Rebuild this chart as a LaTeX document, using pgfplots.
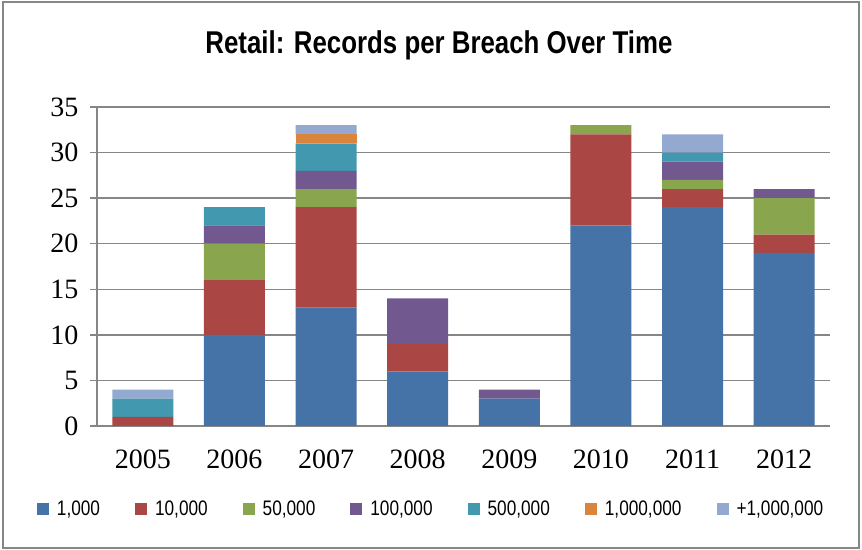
\documentclass[border=0pt]{standalone}
\usepackage{fontspec}
\setmainfont{Liberation Sans}
\newfontfamily\narrow{Liberation Sans}[FakeStretch=0.82]
\newfontfamily\serifnum{Liberation Serif}
\usepackage{pgfplots}
\usepackage{pgfplotstable}
\pgfplotsset{compat=1.18}
\definecolor{c1}{HTML}{4572A7}
\definecolor{c2}{HTML}{AA4643}
\definecolor{c3}{HTML}{89A54E}
\definecolor{c4}{HTML}{71588F}
\definecolor{c5}{HTML}{4198AF}
\definecolor{c6}{HTML}{DB843D}
\definecolor{c7}{HTML}{93A9CF}
\definecolor{axgray}{HTML}{868686}
\pgfplotstableread{
x a b c d e f g
0 0 1 0 0 2 0 1
1 10 6 4 2 2 0 0
2 13 11 2 2 3 1 1
3 6 3 0 5 0 0 0
4 3 0 0 1 0 0 0
5 22 10 1 0 0 0 0
6 24 2 1 2 1 0 2
7 19 2 4 1 0 0 0
}\datatable
\begin{document}
\begin{tikzpicture}[x=1bp,y=1bp]
\path[use as bounding box] (0,0) rectangle (862,550);
\draw[axgray, line width=1.5bp] (3,2) rectangle (859,548);
\node[anchor=base, font=\narrow\bfseries\fontsize{31.5bp}{36bp}\selectfont] at (439,496) {Retail: Records per Breach Over Time};
\begin{axis}[
  at={(97bp,124bp)}, anchor=south west,
  scale only axis, width=733bp, height=319bp,
  ybar stacked, bar width=61bp,
  xmin=-0.5, xmax=7.5, ymin=0, ymax=35,
  xtick={0,...,7},
  xticklabels={2005,2006,2007,2008,2009,2010,2011,2012},
  ytick={0,5,...,35},
  extra x ticks={-0.5,0.5,...,7.5},
  extra x tick labels={},
  extra x tick style={major tick length=8bp, grid=none},
  x tick style={draw=none},
  y tick style={axgray, line width=1.5bp},
  tick align=outside, major tick length=7bp,
  axis x line*=bottom, axis y line*=left,
  axis line style={-, axgray, line width=1.8bp},
  ymajorgrids, major grid style={axgray, line width=1.5bp},
  /pgf/number format/assume math mode=true,
  ticklabel style={font=\serifnum\fontsize{28bp}{32bp}\selectfont},
  xticklabel style={yshift=-13bp},
  yticklabel style={xshift=-8bp},
  legend columns=7,
  legend style={draw=none, fill=none, at={(-0.0819,-0.260)}, anchor=west,
    inner sep=0pt, outer sep=0pt,
    font=\narrow\fontsize{21bp}{25bp}\selectfont,
    nodes={inner sep=1bp},
    /tikz/every odd column/.append style={column sep=7bp},
    /tikz/every even column/.append style={column sep=34bp}},
  legend image code/.code={\fill[#1] (0bp,-6bp) rectangle (12bp,6bp);},
  every axis plot/.append style={draw=none},
]
\addplot[fill=c1] table[x=x,y=a]{\datatable};
\addplot[fill=c2] table[x=x,y=b]{\datatable};
\addplot[fill=c3] table[x=x,y=c]{\datatable};
\addplot[fill=c4] table[x=x,y=d]{\datatable};
\addplot[fill=c5] table[x=x,y=e]{\datatable};
\addplot[fill=c6] table[x=x,y=f]{\datatable};
\addplot[fill=c7] table[x=x,y=g]{\datatable};
\legend{1{,}000,10{,}000,50{,}000,100{,}000,500{,}000,1{,}000{,}000,+1{,}000{,}000}
\end{axis}
\end{tikzpicture}
\end{document}
